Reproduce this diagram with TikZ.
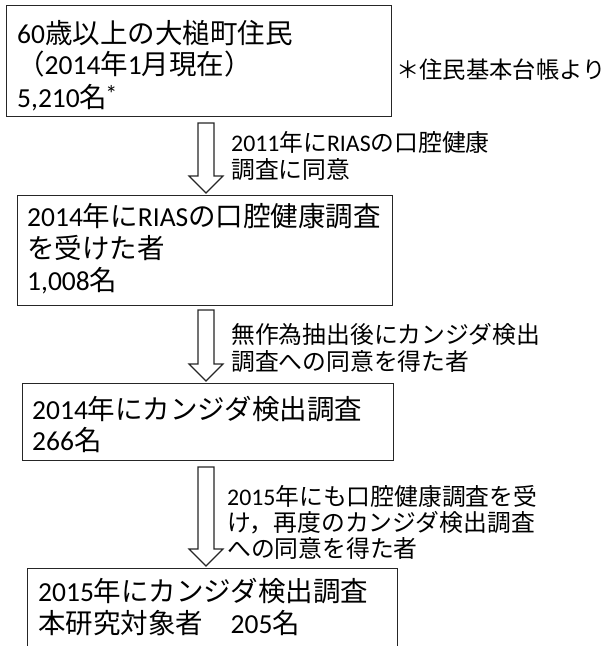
\documentclass[tikz,border=0pt]{standalone}
\usepackage{fontspec}
\setmainfont{Carlito}
\newfontfamily\jf{Noto Sans CJK JP}
\newcommand\J[1]{{\jf #1}}
\usetikzlibrary{calc}
\newcommand\blockarrow[2]{%
  \draw[blk] let \p1=(#1), \p2=(#2) in
    (\x1-8pt,\y1) -- (\x1+8pt,\y1) -- (\x1+8pt,\y2+17pt) -- (\x1+17pt,\y2+17pt)
    -- (\x1,\y2) -- (\x1-17pt,\y2+17pt) -- (\x1-8pt,\y2+17pt) -- cycle;}
\begin{document}
\begin{tikzpicture}[x=1pt,y=-1pt,
  frame/.style={draw=black!85, line width=1.1pt, inner sep=0pt, anchor=north west},
  big/.style={anchor=base west, inner sep=0pt, font=\fontsize{27.5}{32}\selectfont},
  small/.style={anchor=base west, inner sep=0pt, font=\fontsize{23.8}{27}\selectfont},
  blk/.style={draw=black!85, line width=1.1pt, fill=white, line join=miter}]
\useasboundingbox (0,0) rectangle (607,646);
\clip (0,0) rectangle (607,646);

% boxes
\node[frame, minimum width=385pt, minimum height=110.7pt] (b1) at (5.7,5) {};
\node[frame, minimum width=375.5pt, minimum height=109.5pt] (b2) at (16.5,195) {};
\node[frame, minimum width=371pt, minimum height=77pt] (b3) at (21.7,383) {};
\node[frame, minimum width=370.3pt, minimum height=120pt] (b4) at (26.7,568) {};

% box texts
\node[big] (t1a) at (17,43) {60\J{歳以上の大槌町住民}};
\node[big] (t1b) at (17,74) {\J{（}2014\J{年}1\J{月現在）}};
\node[big] (t1c) at (17,107) {5,210\J{名}\kern-2pt\smash{\raisebox{5pt}{\fontsize{24}{24}\selectfont *}}};
\node[small, font=\fontsize{23.3}{27}\selectfont] (note) at (396,78) {\J{＊住民基本台帳より}};

\node[big] (t2a) at (27,226) {2014\J{年に}RIAS\J{の口腔健康調査}};
\node[big] (t2b) at (27,258) {\J{を受けた者}};
\node[big] (t2c) at (27,290) {1,008\J{名}};

\node[big] (t3a) at (32,419) {2014\J{年にカンジダ検出調査}};
\node[big] (t3b) at (32,450) {266\J{名}};

\node[big] (t4a) at (38,601) {2015\J{年にカンジダ検出調査}};
\node[big] (t4b) at (38,633) {\J{本研究対象者　}205\J{名}};

% arrows
\coordinate (a1s) at (206,123);
\coordinate (a1e) at (206,193);
\coordinate (a2s) at (206,310);
\coordinate (a2e) at (206,381);
\coordinate (a3s) at (206,467);
\coordinate (a3e) at (206,566);
\blockarrow{a1s}{a1e}
\blockarrow{a2s}{a2e}
\blockarrow{a3s}{a3e}

% arrow labels
\node[small] (l1a) at (231,151) {2011\J{年に}RIAS\J{の口腔健康}};
\node[small] (l1b) at (231,178) {\J{調査に同意}};

\node[small] (l2a) at (231,343) {\J{無作為抽出後にカンジダ検出}};
\node[small] (l2b) at (231,370) {\J{調査への同意を得た者}};

\node[small] (l3a) at (227,505) {2015\J{年にも口腔健康調査を受}};
\node[small] (l3b) at (227,531) {\J{け，再度のカンジダ検出調査}};
\node[small] (l3c) at (227,557) {\J{への同意を得た者}};
\end{tikzpicture}
\end{document}
